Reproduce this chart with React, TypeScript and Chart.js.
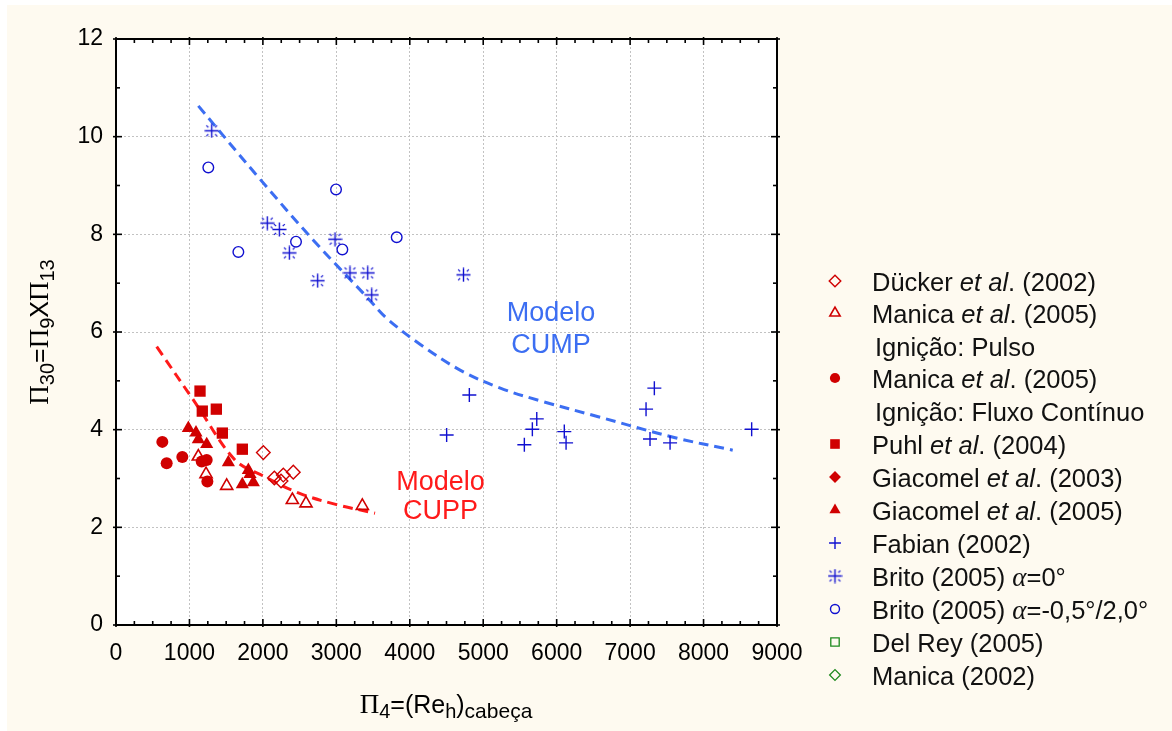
import React, { useEffect, useRef } from 'react';
import { Chart, registerables } from 'chart.js';
import { drawPoint } from 'chart.js/helpers';

Chart.register(...registerables);

// ---------- data ----------
const duckerX = [2006, 2156, 2278, 2247, 2414];
const duckerY = [3.53, 3.01, 3.07, 2.95, 3.13];

const manicaPulsoX = [1121, 1226, 1507, 2401, 2587, 3354];
const manicaPulsoY = [3.45, 3.09, 2.85, 2.56, 2.49, 2.44];

const manicaFluxoX = [631, 690, 903, 1167, 1235, 1244];
const manicaFluxoY = [3.75, 3.31, 3.44, 3.35, 3.38, 2.94];

const puhlX = [1144, 1175, 1366, 1448, 1720];
const puhlY = [4.79, 4.38, 4.42, 3.93, 3.6];

const giacomel2003X: number[] = [];
const giacomel2003Y: number[] = [];

const giacomel2005X = [985, 1089, 1121, 1235, 1530, 1802, 1825, 1720, 1870];
const giacomel2005Y = [4.03, 3.94, 3.8, 3.7, 3.33, 3.17, 3.09, 2.88, 2.92];

const fabianX = [4811, 4502, 5560, 5669, 5729, 6104, 6128, 7217, 7330, 7271, 7544, 8655];
const fabianY = [4.71, 3.89, 3.69, 4.01, 4.22, 3.96, 3.73, 4.42, 4.85, 3.81, 3.73, 4.01];

const brito0X = [1303, 2060, 2224, 2360, 2982, 2746, 3186, 3427, 3482, 4731];
const brito0Y = [10.12, 8.23, 8.1, 7.62, 7.9, 7.05, 7.21, 7.21, 6.76, 7.17];

const britoAlphaX = [1257, 1666, 2451, 2996, 3082, 3822];
const britoAlphaY = [9.37, 7.64, 7.85, 8.92, 7.69, 7.94];

const delReyX: number[] = [];
const delReyY: number[] = [];
const manica2002X: number[] = [];
const manica2002Y: number[] = [];

const cumpX = [1121, 1938, 2687, 3413, 3686, 4139, 4685, 5233, 5779, 6554, 7601, 8397];
const cumpY = [10.63, 9.17, 7.88, 6.72, 6.28, 5.75, 5.22, 4.85, 4.59, 4.27, 3.84, 3.58];

const cuppX = [554, 1089, 1620, 2006, 2492, 2991, 3527];
const cuppY = [5.7, 4.53, 3.38, 3.05, 2.7, 2.47, 2.29];

const xTickLabels = ['0', '1000', '2000', '3000', '4000', '5000', '6000', '7000', '8000', '9000'];
const yTickLabels = ['0', '2', '4', '6', '8', '10', '12'];

// ---------- styles ----------
const SANS = '"Liberation Sans", Arial, sans-serif';
const SERIF = '"Liberation Serif", "Times New Roman", serif';
const RED = '#D00000';
const BLUE = '#1010D0';
const GREEN = '#1E8A1E';
const BG = '#FEFAF0';

const pts = (xs: number[], ys: number[]) => xs.map((x, i) => ({ x, y: ys[i] }));

function makeAsterisk(): HTMLCanvasElement {
  const c = document.createElement('canvas');
  c.width = 15;
  c.height = 15;
  const g = c.getContext('2d')!;
  g.strokeStyle = BLUE;
  g.lineWidth = 1.4;
  const m = 7.5;
  g.beginPath();
  g.moveTo(m - 7, m); g.lineTo(m + 7, m);
  g.moveTo(m, m - 7); g.lineTo(m, m + 7);
  g.stroke();
  g.lineWidth = 1.2;
  g.beginPath();
  for (const [sx, sy] of [[1, 1], [1, -1], [-1, 1], [-1, -1]]) {
    g.moveTo(m + sx * 3.3, m + sy * 3.3);
    g.lineTo(m + sx * 5.4, m + sy * 5.4);
  }
  g.stroke();
  return c;
}

type Seg = { t: string; f: string; dy?: number };

function drawRich(ctx: CanvasRenderingContext2D, segs: Seg[], x: number, y: number, align: 'left' | 'center') {
  let w = 0;
  for (const s of segs) { ctx.font = s.f; w += ctx.measureText(s.t).width; }
  let cx = align === 'center' ? x - w / 2 : x;
  ctx.textAlign = 'left';
  ctx.textBaseline = 'alphabetic';
  for (const s of segs) {
    ctx.font = s.f;
    ctx.fillText(s.t, cx, y + (s.dy || 0));
    cx += ctx.measureText(s.t).width;
  }
}

const LF = `25.5px ${SANS}`;
const LI = `italic 25.5px ${SANS}`;
const LA = `italic 27px ${SERIF}`;

const legendRows: { marker: number; segs: Seg[] }[] = [
  { marker: 0, segs: [{ t: 'Dücker ', f: LF }, { t: 'et al', f: LI }, { t: '. (2002)', f: LF }] },
  { marker: 1, segs: [{ t: 'Manica ', f: LF }, { t: 'et al', f: LI }, { t: '. (2005)', f: LF }] },
  { marker: -1, segs: [{ t: 'Ignição: Pulso', f: LF }] },
  { marker: 2, segs: [{ t: 'Manica ', f: LF }, { t: 'et al', f: LI }, { t: '. (2005)', f: LF }] },
  { marker: -1, segs: [{ t: 'Ignição: Fluxo Contínuo', f: LF }] },
  { marker: 3, segs: [{ t: 'Puhl ', f: LF }, { t: 'et al', f: LI }, { t: '. (2004)', f: LF }] },
  { marker: 4, segs: [{ t: 'Giacomel ', f: LF }, { t: 'et al', f: LI }, { t: '. (2003)', f: LF }] },
  { marker: 5, segs: [{ t: 'Giacomel ', f: LF }, { t: 'et al', f: LI }, { t: '. (2005)', f: LF }] },
  { marker: 6, segs: [{ t: 'Fabian (2002)', f: LF }] },
  { marker: 7, segs: [{ t: 'Brito (2005) ', f: LF }, { t: 'α', f: LA }, { t: '=0°', f: LF }] },
  { marker: 8, segs: [{ t: 'Brito (2005) ', f: LF }, { t: 'α', f: LA }, { t: '=-0,5°/2,0°', f: LF }] },
  { marker: 9, segs: [{ t: 'Del Rey (2005)', f: LF }] },
  { marker: 10, segs: [{ t: 'Manica (2002)', f: LF }] },
];
const legendRowY = [277, 309, 342, 374, 407, 440, 473, 506, 539, 572, 605, 638, 671];

export default function App() {
  const ref = useRef<HTMLCanvasElement>(null);

  useEffect(() => {
    const canvas = ref.current!;
    const asterisk = makeAsterisk();

    const markerDatasets: any[] = [
      { label: 'Dücker', data: pts(duckerX, duckerY), pointStyle: 'rectRot', pointRadius: 6.8, backgroundColor: 'rgba(0,0,0,0)', borderColor: RED, borderWidth: 1.4 },
      { label: 'Manica pulso', data: pts(manicaPulsoX, manicaPulsoY), pointStyle: 'triangle', pointRadius: 7, backgroundColor: 'rgba(0,0,0,0)', borderColor: RED, borderWidth: 1.6 },
      { label: 'Manica fluxo', data: pts(manicaFluxoX, manicaFluxoY), pointStyle: 'circle', pointRadius: 6, backgroundColor: RED, borderColor: RED, borderWidth: 0 },
      { label: 'Puhl', data: pts(puhlX, puhlY), pointStyle: 'rect', pointRadius: 8, backgroundColor: RED, borderColor: RED, borderWidth: 0 },
      { label: 'Giacomel 2003', data: pts(giacomel2003X, giacomel2003Y), pointStyle: 'rectRot', pointRadius: 7, backgroundColor: RED, borderColor: RED, borderWidth: 0 },
      { label: 'Giacomel 2005', data: pts(giacomel2005X, giacomel2005Y), pointStyle: 'triangle', pointRadius: 7.6, backgroundColor: RED, borderColor: RED, borderWidth: 0 },
      { label: 'Fabian', data: pts(fabianX, fabianY), pointStyle: 'cross', pointRadius: 7, backgroundColor: BLUE, borderColor: BLUE, borderWidth: 1.4 },
      { label: 'Brito 0', data: pts(brito0X, brito0Y), pointStyle: asterisk, pointRadius: 7, backgroundColor: BLUE, borderColor: BLUE, borderWidth: 1 },
      { label: 'Brito alpha', data: pts(britoAlphaX, britoAlphaY), pointStyle: 'circle', pointRadius: 5.3, backgroundColor: 'rgba(0,0,0,0)', borderColor: BLUE, borderWidth: 1.4 },
      { label: 'Del Rey', data: pts(delReyX, delReyY), pointStyle: 'rect', pointRadius: 7, backgroundColor: 'rgba(0,0,0,0)', borderColor: GREEN, borderWidth: 1.3 },
      { label: 'Manica 2002', data: pts(manica2002X, manica2002Y), pointStyle: 'rectRot', pointRadius: 6.3, backgroundColor: 'rgba(0,0,0,0)', borderColor: GREEN, borderWidth: 1.3 },
    ];
    const datasets: any[] = [
      ...markerDatasets.map((d, i) => ({ ...d, showLine: false, order: i })),
      { label: 'CUPP', data: pts(cuppX, cuppY), showLine: true, pointRadius: 0, borderColor: '#FF1A1A', borderWidth: 3, borderDash: [10, 6], tension: 0.35, order: 50 },
      { label: 'CUMP', data: pts(cumpX, cumpY), showLine: true, pointRadius: 0, borderColor: '#3C6EF2', borderWidth: 3, borderDash: [10, 6], tension: 0.35, order: 51 },
    ];

    const bgPlugin = {
      id: 'bgPlugin',
      beforeDraw(chart: any) {
        const { ctx, chartArea: a, width, height } = chart;
        ctx.save();
        ctx.fillStyle = BG;
        ctx.fillRect(0, 0, width, height);
        ctx.fillStyle = '#FFFFFF';
        ctx.fillRect(a.left, a.top, a.right - a.left, a.bottom - a.top);
        ctx.restore();
      },
    };

    const decoPlugin = {
      id: 'decoPlugin',
      afterDraw(chart: any) {
        const { ctx, chartArea: a, scales } = chart;
        const xs = scales.x;
        const ys = scales.y;
        ctx.save();
        ctx.strokeStyle = '#000';
        ctx.lineWidth = 2;
        ctx.strokeRect(a.left, a.top, a.right - a.left, a.bottom - a.top);
        const seg = (x1: number, y1: number, x2: number, y2: number) => {
          ctx.beginPath(); ctx.moveTo(x1, y1); ctx.lineTo(x2, y2); ctx.stroke();
        };
        ctx.lineWidth = 1.6;
        for (let v = xs.min; v <= xs.max + 1e-6; v += 250) {
          const px = xs.getPixelForValue(v);
          const major = Math.abs(v % 1000) < 1e-6;
          const inn = major ? 6 : 4;
          const out = major ? 2 : 0;
          seg(px, a.bottom + out, px, a.bottom - inn);
          seg(px, a.top - out, px, a.top + inn);
        }
        for (let v = ys.min; v <= ys.max + 1e-6; v += 1) {
          const py = ys.getPixelForValue(v);
          const major = Math.abs(v % 2) < 1e-6;
          const inn = major ? 6 : 4;
          const out = major ? 3 : 0;
          seg(a.left - out, py, a.left + inn, py);
          seg(a.right + out, py, a.right - inn, py);
        }

        ctx.fillStyle = '#000';
        ctx.save();
        ctx.translate(41, (a.top + a.bottom) / 2);
        ctx.rotate(-Math.PI / 2);
        const P = `27px ${SERIF}`;
        const S = `20px ${SANS}`;
        const M = `25px ${SANS}`;
        drawRich(ctx, [
          { t: 'Π', f: P }, { t: '30', f: S, dy: 6 }, { t: '=', f: M },
          { t: 'Π', f: P }, { t: '9', f: S, dy: 6 }, { t: 'X', f: M },
          { t: 'Π', f: P }, { t: '13', f: S, dy: 6 },
        ], 0, 0, 'center');
        ctx.restore();
        drawRich(ctx, [
          { t: 'Π', f: P }, { t: '4', f: S, dy: 5 }, { t: '=(Re', f: M },
          { t: 'h', f: S, dy: 5 }, { t: ')', f: M }, { t: 'cabeça', f: `21px ${SANS}`, dy: 5 },
        ], 439, 708, 'center');

        ctx.textAlign = 'center';
        ctx.textBaseline = 'alphabetic';
        ctx.font = `27px ${SANS}`;
        ctx.fillStyle = '#3C6EF2';
        ctx.fillText('Modelo', xs.getPixelForValue(5923), ys.getPixelForValue(6.22));
        ctx.fillText('CUMP', xs.getPixelForValue(5923), ys.getPixelForValue(5.56));
        ctx.fillStyle = '#FF1A1A';
        ctx.fillText('Modelo', xs.getPixelForValue(4419), ys.getPixelForValue(2.77));
        ctx.fillText('CUPP', xs.getPixelForValue(4419), ys.getPixelForValue(2.18));

        legendRows.forEach((row, i) => {
          const yy = legendRowY[i];
          if (row.marker >= 0) {
            const d = markerDatasets[row.marker];
            ctx.save();
            ctx.fillStyle = d.backgroundColor;
            ctx.strokeStyle = d.borderColor;
            ctx.lineWidth = d.borderWidth;
            drawPoint(ctx, { pointStyle: d.pointStyle, radius: d.pointRadius * 0.85, borderWidth: d.borderWidth, rotation: 0 } as any, 828, yy - 1);
            ctx.restore();
          }
          ctx.fillStyle = '#111';
          drawRich(ctx, row.segs, row.marker >= 0 ? 865 : 868, yy + 9, 'left');
        });
        ctx.restore();
      },
    };

    const tickFont = { family: SANS, size: 23 };
    const chart = new Chart(canvas, {
      type: 'scatter',
      data: { datasets },
      options: {
        animation: false,
        responsive: false,
        maintainAspectRatio: false,
        layout: { padding: { left: 0, top: 34, right: 395, bottom: 0 } },
        plugins: { legend: { display: false }, tooltip: { enabled: false } },
        scales: {
          x: {
            type: 'linear',
            min: 0,
            max: 9000,
            afterFit: (s: any) => { s.height = 106; },
            ticks: {
              stepSize: 1000,
              autoSkip: false,
              maxRotation: 0,
              padding: 15,
              color: '#000',
              font: tickFont,
              callback: (_v: any, i: number) => xTickLabels[i],
            },
            grid: {
              drawTicks: false,
              lineWidth: 1,
              color: (c: any) => (c.tick && (c.tick.value === 0 || c.tick.value === 9000) ? 'rgba(0,0,0,0)' : '#C2C2C2'),
            },
            border: { display: false, dash: [2, 2] },
          },
          y: {
            type: 'linear',
            min: 0,
            max: 12,
            afterFit: (s: any) => { s.width = 109; },
            ticks: {
              stepSize: 2,
              autoSkip: false,
              padding: 13,
              color: '#000',
              font: tickFont,
              callback: (_v: any, i: number) => yTickLabels[i],
            },
            grid: {
              drawTicks: false,
              lineWidth: 1,
              color: (c: any) => (c.tick && (c.tick.value === 0 || c.tick.value === 12) ? 'rgba(0,0,0,0)' : '#C2C2C2'),
            },
            border: { display: false, dash: [2, 2] },
          },
        },
      } as any,
      plugins: [bgPlugin, decoPlugin],
    });
    return () => chart.destroy();
  }, []);

  return (
    <div style={{ position: 'fixed', left: 7, top: 5, width: 1165, height: 726 }}>
      <canvas ref={ref} width={1165} height={726} style={{ width: 1165, height: 726, display: 'block' }} />
    </div>
  );
}
